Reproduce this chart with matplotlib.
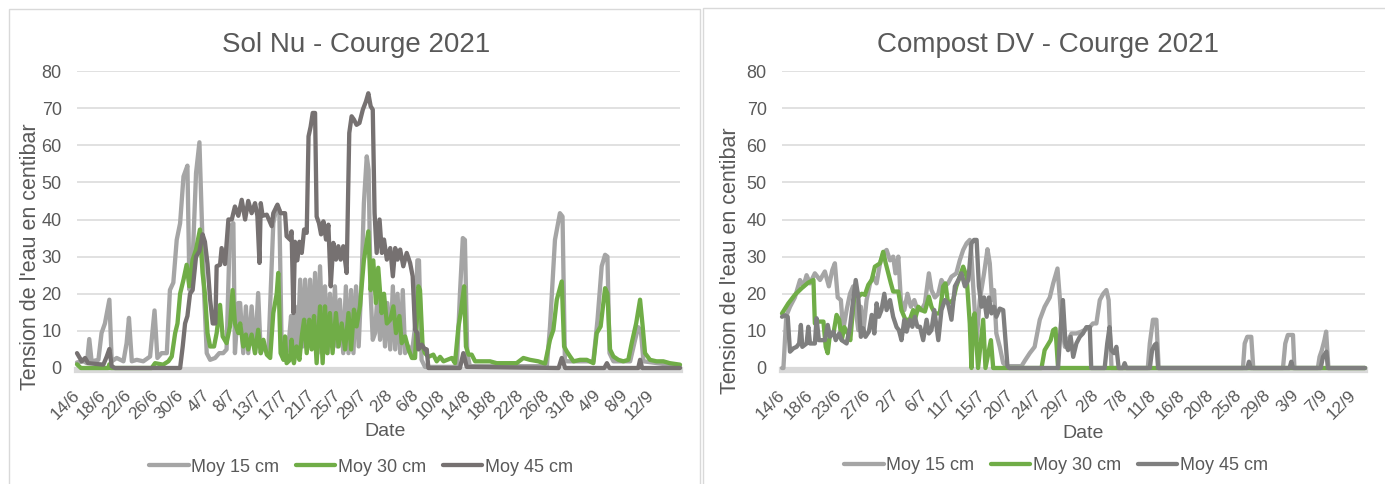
import numpy as np
import matplotlib
matplotlib.use('Agg')
import matplotlib.pyplot as plt
from matplotlib.patches import Rectangle

# ---- data (x = position on the date axis, 1 unit = one labelled step)
sn_labels = ['14/6', '18/6', '22/6', '26/6', '30/6', '4/7', '8/7', '13/7', '17/7', '21/7', '25/7', '29/7',
             '2/8', '6/8', '10/8', '14/8', '18/8', '22/8', '26/8', '31/8', '4/9', '8/9', '12/9']
cd_labels = ['14/6', '18/6', '23/6', '27/6', '2/7', '6/7', '11/7', '15/7', '20/7', '24/7', '29/7',
             '2/8', '7/8', '11/8', '16/8', '20/8', '25/8', '29/8', '3/9', '7/9', '12/9']
sn_end = 23.1
cd_end = 20.4

# Sol Nu - Moy 15 cm
sn_t15 = [0, 0.25, 0.38, 0.47, 0.56, 0.82, 0.94, 1.07, 1.24, 1.33, 1.52, 1.78, 1.9, 1.99, 2.1, 2.29, 2.54, 2.8,
          2.97, 3.08, 3.24, 3.44, 3.56, 3.69, 3.82, 3.95, 4.08, 4.23, 4.31, 4.43, 4.56, 4.69, 4.78, 4.87, 4.97,
          5.1, 5.29, 5.45, 5.6, 5.73, 5.86, 5.99, 6.05, 6.18, 6.25, 6.37, 6.47, 6.56, 6.69, 6.82, 6.94, 7.04,
          7.14, 7.33, 7.52, 7.65, 7.75, 7.84, 7.97, 8.1, 8.2, 8.27, 8.35, 8.44, 8.55, 8.65, 8.74, 8.84, 8.93,
          9.03, 9.12, 9.22, 9.31, 9.41, 9.5, 9.6, 9.69, 9.79, 9.88, 9.97, 10.07, 10.2, 10.3, 10.4, 10.5, 10.59,
          10.69, 10.79, 10.91, 10.99, 11.1, 11.17, 11.25, 11.33, 11.42, 11.51, 11.61, 11.71, 11.8, 11.89, 12.0,
          12.1, 12.19, 12.28, 12.38, 12.48, 12.57, 12.7, 12.83, 12.95, 13.04, 13.1, 13.2, 13.33, 14.55, 14.67,
          14.78, 14.86, 14.95, 15.05, 16.5, 16.59, 16.7, 18.0, 18.12, 18.31, 18.5, 18.6, 18.69, 18.76, 19.78,
          19.94, 20.1, 20.23, 20.32, 20.4, 20.55, 21.19, 21.38, 21.5, 21.6, 21.7, 23.1]
sn_v15 = [1.5, 1.8, 1.3, 7.8, 1.8, 2.2, 9.4, 12, 18.4, 1.8, 2.7, 1.8, 6.7, 13.5, 1.8, 2.2, 1.8, 3.1,
          15.5, 2.7, 4, 4, 21, 23, 34.5, 39, 51.6, 54.5, 21, 29, 52.5, 60.8, 40, 20, 4,
          2.2, 2.7, 4, 4, 5, 38, 39, 4, 17.5, 17.5, 4, 16.6, 4, 16.6, 4, 20.2, 4,
          5.8, 4, 39, 43.5, 42.6, 5.8, 3.1, 5.8, 14, 4, 16.6, 4, 23.8, 5.8, 23.8, 5.8, 23.8,
          5.8, 25.6, 4, 27.4, 7.6, 22, 4, 20, 5.8, 22, 5.8, 18.4, 4, 22, 4, 21, 4,
          22, 5.8, 25.6, 44.4, 57, 53.4, 20, 7.6, 9.4, 20, 7.6, 18.4, 5.8, 17.5, 5,
          22, 5, 20, 4, 21, 4, 5.8, 4, 11, 29, 29, 2.2, 0.3, 0.3, 20,
          35, 34.5, 4, 0.5, 0.5, 1.3, 0.5, 0.5, 11.2, 34.5, 41.7, 40.8, 2.2, 1.8, 1.8,
          13, 27.4, 30.5, 30, 4, 1.8, 1.8, 7.6, 11, 10, 1.8, 0.5]

# Sol Nu - Moy 30 cm
sn_t30 = [0, 0.15, 1.2, 1.24, 1.3, 2.86, 2.99, 3.3, 3.5, 3.63, 3.76, 3.85, 3.95, 4.08, 4.2, 4.3, 4.43, 4.56,
          4.71, 4.81, 4.9, 5.0, 5.1, 5.25, 5.35, 5.48, 5.58, 5.73, 5.86, 5.96, 6.05, 6.18, 6.25, 6.37, 6.47,
          6.56, 6.69, 6.82, 6.94, 7.04, 7.14, 7.27, 7.4, 7.52, 7.65, 7.71, 7.8, 7.91, 7.97, 8.03, 8.16, 8.22,
          8.31, 8.41, 8.52, 8.61, 8.7, 8.8, 8.9, 8.99, 9.08, 9.18, 9.31, 9.41, 9.5, 9.59, 9.69, 9.79, 9.92,
          10.02, 10.14, 10.27, 10.4, 10.5, 10.61, 10.71, 10.84, 10.99, 11.16, 11.25, 11.35, 11.45, 11.54,
          11.67, 11.76, 11.87, 12.0, 12.12, 12.22, 12.35, 12.44, 12.57, 12.7, 12.83, 12.95, 13.08, 13.14,
          13.24, 13.33, 13.46, 13.65, 13.78, 13.91, 14.04, 14.36, 14.48, 14.61, 14.7, 14.83, 14.9, 15.0,
          15.12, 15.25, 15.44, 15.82, 16.08, 16.46, 16.84, 17.1, 17.35, 17.67, 17.93, 18.12, 18.25, 18.38,
          18.57, 18.66, 18.76, 18.89, 19.02, 19.27, 19.53, 19.78, 19.91, 20.06, 20.23, 20.32, 20.42, 20.55,
          20.74, 20.93, 21.12, 21.25, 21.42, 21.57, 21.67, 21.76, 21.95, 22.2, 22.46, 22.71, 23.1]
sn_v30 = [1, 0, 0, 1, 0, 0, 1.3, 0.9, 1.8, 3.1, 9.4, 12, 20, 23.8, 27.8, 22, 29.2, 31.9,
          37.3, 25.6, 20, 9.4, 5.8, 5.8, 9.4, 17, 8.5, 6.7, 11.2, 21, 12, 9.4, 12, 5.8, 9,
          5, 9, 4, 10.3, 4, 7.6, 3.6, 2.7, 14.8, 20, 25.6, 4, 2.2, 8.5, 1.3, 2.2, 7.6,
          1.3, 5.8, 2.2, 8.5, 13, 4, 13, 5, 14, 1.3, 16.6, 1.3, 16.6, 4, 14.8, 4, 14.8,
          5.8, 12, 5, 14.8, 5, 15.7, 11.2, 16.6, 29, 36.8, 21, 29, 17.5, 27,
          14.8, 20, 12, 13, 16.6, 9.4, 14, 6.7, 8.5, 5, 2.7, 2.7, 22, 21,
          5.8, 4, 3, 3.6, 1.8, 3, 1.8, 2.7, 1.3, 11, 14.8, 22, 5.8, 3.6,
          3.6, 1.8, 1.8, 1.8, 1.3, 1.3, 1.3, 2.7, 2.2, 1.8, 1.2, 7.6, 10.3, 18.4,
          23.3, 5.8, 4.5, 3.1, 1.8, 2.2, 2.2, 1.3, 9.4, 11.2, 21.5, 20, 5, 3.1,
          2.2, 1.8, 2.2, 6.7, 12, 18.4, 11.2, 4, 2.2, 1.8, 1.8, 1.3, 0.9]

# Sol Nu - Moy 45 cm
sn_t45 = [0, 0.18, 0.31, 0.43, 1.01, 1.14, 1.24, 1.33, 1.45, 3.95, 4.05, 4.14, 4.23, 4.33, 4.43, 4.56, 4.69,
          4.81, 4.9, 5.0, 5.1, 5.2, 5.3, 5.35, 5.48, 5.54, 5.67, 5.8, 5.93, 6.05, 6.18, 6.31, 6.44, 6.56, 6.69,
          6.82, 6.91, 6.99, 7.04, 7.11, 7.27, 7.46, 7.52, 7.68, 7.8, 7.97, 8.03, 8.16, 8.22, 8.29, 8.35, 8.44,
          8.52, 8.61, 8.7, 8.8, 8.87, 8.95, 9.03, 9.12, 9.18, 9.27, 9.35, 9.44, 9.54, 9.63, 9.72, 9.82, 9.92,
          10.01, 10.1, 10.2, 10.33, 10.43, 10.52, 10.61, 10.71, 10.82, 10.95, 11.07, 11.16, 11.25, 11.33,
          11.4, 11.48, 11.59, 11.68, 11.76, 11.87, 12.0, 12.1, 12.19, 12.28, 12.38, 12.5, 12.63, 12.76,
          12.86, 12.95, 13.04, 13.08, 13.21, 13.33, 13.4, 13.46, 14.67, 14.8, 14.93, 18.45, 18.57, 18.7,
          20.2, 20.3, 20.4, 21.5, 21.57, 21.65, 23.1]
sn_v45 = [4, 1.8, 2.7, 1.3, 0.9, 3.1, 5.1, 0.5, 0, 0, 5.8, 12, 14, 20, 21, 30, 31.5,
          36, 34, 28, 18.4, 12, 12, 27.4, 27.8, 32.3, 28, 40, 40, 43.5, 41, 45.3, 40, 45, 41.7,
          44.4, 41, 28.3, 44.4, 41, 41.3, 38.2, 41.7, 44, 41.7, 41.7, 35.5, 34.6, 36.8, 14.8, 34, 29,
          34, 31, 37.3, 36.4, 62.4, 65, 68.7, 68.7, 40.8, 39, 36, 39.5, 34.6, 38.6, 22, 33.7, 29.2,
          32.8, 29.2, 32.8, 25.6, 63.3, 67.8, 66.9, 65.5, 66, 69.6, 71.8, 74, 70.5, 69.6,
          41.7, 31, 40, 31, 34.6, 29.2, 32.3, 24.7, 32.3, 29.2, 31.9, 27.4, 31, 28.3,
          24.7, 10.3, 9.4, 5, 6.3, 5, 5, 0, 0, 4, 0.3, 0, 2.7, 0,
          0, 1.3, 0, 0, 2.2, 0, 0]

# Compost DV - Moy 15 cm
cd_t15 = [0, 0.05, 0.15, 0.28, 0.45, 0.63, 0.75, 0.86, 0.98, 1.15, 1.33, 1.5, 1.64, 1.76, 1.85, 1.95, 2.06,
          2.14, 2.26, 2.38, 2.49, 2.58, 2.67, 2.76, 2.84, 2.96, 3.08, 3.19, 3.31, 3.43, 3.54, 3.66, 3.78, 3.89,
          3.97, 4.07, 4.16, 4.28, 4.39, 4.51, 4.63, 4.74, 4.88, 5.0, 5.14, 5.23, 5.35, 5.47, 5.58, 5.7, 5.81,
          5.93, 6.1, 6.22, 6.34, 6.46, 6.57, 6.61, 6.69, 6.81, 6.92, 7.07, 7.19, 7.27, 7.35, 7.42, 7.5, 7.62,
          7.74, 7.86, 8.38, 8.5, 8.67, 8.84, 9.02, 9.19, 9.37, 9.49, 9.64, 9.72, 9.78, 9.9, 10.01, 10.13,
          10.3, 10.48, 10.65, 10.77, 10.88, 11.0, 11.12, 11.24, 11.35, 11.43, 11.53, 12.8, 12.87, 12.98,
          13.1, 13.18, 16.13, 16.19, 16.28, 16.42, 16.49, 17.53, 17.61, 17.7, 17.88, 17.93, 18.75, 18.81,
          18.89, 18.98, 19.04, 19.12, 20.4]
cd_v15 = [0, 0, 14, 16.5, 19, 23.7, 22, 25, 22.8, 25.5, 23.7, 26, 22, 26.4, 28.2, 19, 18.3,
          10.2, 15.6, 20, 22, 15.6, 10.2, 16.5, 9.3, 18.3, 22.8, 24.6, 22.8, 28.2, 30.9, 31.8, 29, 30,
          25.5, 30, 18.3, 15.6, 20, 16.5, 18.3, 15.6, 15.6, 17.4, 25.5, 21, 19, 20, 23.7, 22, 22.8,
          24.6, 25.5, 29, 31.8, 33.6, 34.5, 32.7, 22, 7.5, 18.3, 25.5, 32, 28.2, 18.3, 21, 9.3, 5.7,
          1.3, 0.5, 0.5, 2, 4, 5.7, 13, 16.5, 19, 22.8, 26.8, 19, 12, 5.7, 7.5, 9.3,
          9.3, 9.8, 10.5, 11, 12, 12, 18.3, 20, 21, 18.3, 0, 0, 6.6, 13,
          13, 0, 0, 6.6, 8.4, 8.4, 0, 0, 6.6, 8.9, 8.9, 0, 0, 3,
          4.8, 7.5, 9.8, 0, 0]

# Compost DV - Moy 30 cm
cd_t30 = [0, 0.22, 0.45, 0.69, 0.92, 1.1, 1.15, 1.27, 1.45, 1.53, 1.6, 1.68, 1.8, 1.91, 2.0, 2.09, 2.18, 2.3,
          2.39, 2.5, 2.58, 2.67, 2.79, 2.9, 3.02, 3.14, 3.25, 3.43, 3.54, 3.63, 3.72, 3.81, 3.89, 4.07, 4.18,
          4.32, 4.47, 4.59, 4.65, 4.77, 4.88, 5.0, 5.14, 5.23, 5.35, 5.52, 5.64, 5.72, 5.81, 5.99, 6.1, 6.22,
          6.34, 6.46, 6.57, 6.63, 6.69, 6.74, 6.86, 7.04, 7.12, 7.31, 7.39, 9.08, 9.19, 9.4, 9.49, 9.57,
          9.66, 20.4]
cd_v30 = [14.7, 17.4, 19.7, 21.5, 23, 23.7, 12, 12.5, 12.5, 5.7, 4, 9.3, 9.3, 14.3, 13, 7.5, 11, 9.3,
          7.5, 17.4, 22, 19.2, 20, 19.7, 22.4, 23.7, 27.3, 28.2, 31.3, 28.2, 25.5, 22.8, 20.6, 20.6, 15.6,
          13, 13, 15.6, 13, 16.5, 15.6, 15.2, 19.2, 16.5, 14.7, 14.7, 22, 22.8, 17.4, 18.3, 22, 24.6,
          27.3, 24.6, 12, 0, 13, 14.7, 0, 13, 0, 7.5, 0, 0, 4.8, 7.5, 10.2, 10.6,
          0, 0]

# Compost DV - Moy 45 cm
cd_t45 = [0, 0.1, 0.2, 0.28, 0.4, 0.51, 0.6, 0.66, 0.71, 0.86, 0.92, 0.98, 1.15, 1.21, 1.29, 1.5, 1.6, 1.68,
          1.8, 1.88, 2.0, 2.09, 2.26, 2.38, 2.49, 2.58, 2.67, 2.76, 2.84, 2.92, 3.04, 3.14, 3.23, 3.31, 3.39,
          3.48, 3.58, 3.66, 3.78, 3.89, 4.01, 4.09, 4.18, 4.28, 4.36, 4.47, 4.56, 4.65, 4.74, 4.83, 4.94,
          5.06, 5.14, 5.23, 5.33, 5.47, 5.58, 5.7, 5.81, 5.93, 6.05, 6.17, 6.28, 6.4, 6.52, 6.63, 6.72, 6.81,
          6.89, 6.98, 7.07, 7.16, 7.24, 7.33, 7.42, 7.5, 7.62, 7.74, 7.82, 7.89, 7.95, 9.66, 9.75, 9.83,
          9.92, 10.01, 10.1, 10.19, 10.3, 10.42, 10.53, 10.65, 10.77, 10.82, 11.29, 11.38, 11.46, 11.52,
          11.62, 11.7, 11.78, 11.93, 11.99, 12.05, 12.87, 12.95, 13.04, 13.1, 13.16, 16.28, 16.34, 16.4,
          17.76, 17.82, 17.88, 18.85, 18.93, 19.05, 19.1, 20.4]
cd_v45 = [13.8, 14.2, 13.8, 4.4, 5.3, 5.7, 6.6, 11.6, 5.7, 6.6, 11.1, 6.6, 6.6, 13.4, 7.5, 7.5, 11.6, 8.4,
          9.8, 7.5, 9.3, 7.5, 6.6, 11.1, 18.3, 23.7, 19, 8.4, 10.7, 8.4, 9.8, 14.3, 9.3, 17.4, 13.8,
          15.6, 20, 15.6, 18.3, 13.8, 11, 10.2, 7.5, 13, 9.8, 13, 11.1, 13.8, 11.1, 11.1, 7.5,
          13, 9.3, 10.2, 15.6, 7.5, 15.6, 18.3, 17.4, 13, 22, 23.7, 25.5, 22, 23.7, 33.6, 34.5, 34.5,
          22, 16.5, 19, 13.8, 19, 14.7, 16.5, 13.8, 16, 15.6, 7.5, 0.5, 0, 0, 11, 18.3,
          6.6, 4.8, 8.4, 3, 6.6, 8.4, 9.3, 11, 11, 0, 0, 6.6, 11, 4.8,
          4, 5.7, 0, 0, 1.3, 0, 0, 4.8, 6.2, 6.6, 0, 0, 1.7, 0,
          0, 1.7, 0, 0, 3, 4.4, 0, 0]

series_names = ['Moy 15 cm', 'Moy 30 cm', 'Moy 45 cm']

# ---- style
W, H = 1385, 484
txt = '#595959'
grid_c = '#d9d9d9'
plt.rcParams['font.family'] = ['Liberation Sans', 'DejaVu Sans']


def px_rect(x0, y0, x1, y1):
    return [x0 / W, 1 - y1 / H, (x1 - x0) / W, (y1 - y0) / H]


def draw_panel(ax, xs, ys, colors, labels, xend, title, title_x, ylab_xy, date_xy, leg_xy):
    for x, y, c, n in zip(xs, ys, colors, series_names):
        ax.plot(x, y, color=c, lw=3.1, label=n, zorder=3, clip_on=False,
                solid_joinstyle='round', solid_capstyle='round')
    ax.set_xlim(0, xend)
    ax.set_ylim(0, 80)
    ax.set_yticks(np.arange(0, 81, 10))
    ax.set_xticks(np.arange(len(labels)))
    ax.set_xticklabels(labels)
    ax.set_axisbelow(True)
    ax.yaxis.grid(True, color=grid_c, lw=1.1)
    for s in ax.spines.values():
        s.set_visible(False)
    ax.axhline(-0.5, color=grid_c, lw=4.5, zorder=1.5, clip_on=False)
    ax.tick_params(axis='both', length=0, colors=txt)
    ax.tick_params(axis='y', labelsize=13, pad=11)
    ax.tick_params(axis='x', labelsize=12.5, pad=18)
    for lbl in ax.get_xticklabels():
        lbl.set_rotation(45)
        lbl.set_ha('right')
        lbl.set_va('center')
        lbl.set_rotation_mode('anchor')
    fig.text(title_x / W, 1 - 45 / H, title, ha='center', va='center', fontsize=20, color=txt)
    fig.text(ylab_xy[0] / W, 1 - ylab_xy[1] / H, "Tension de l'eau en centibar", rotation=90,
             ha='center', va='center', fontsize=15.5, color=txt)
    fig.text(date_xy[0] / W, 1 - date_xy[1] / H, 'Date', ha='center', va='center', fontsize=14, color=txt)
    ax.legend(loc='center', bbox_to_anchor=(leg_xy[0] / W, 1 - leg_xy[1] / H),
              bbox_transform=fig.transFigure, ncol=3, frameon=False, fontsize=13, labelcolor=txt,
              handlelength=2.2, handletextpad=0.15, columnspacing=0.9)


fig = plt.figure(figsize=(W / 100, H / 100), dpi=100)

# panel borders
fig.add_artist(Rectangle((9 / W, -0.01), (700 - 9) / W, 1.01 - 9 / H, transform=fig.transFigure,
                         fill=False, ec=grid_c, lw=1))
fig.add_artist(Rectangle((703 / W, -0.01), 1.0, 1.01 - 8 / H, transform=fig.transFigure,
                         fill=False, ec=grid_c, lw=1))

ax1 = fig.add_axes(px_rect(77, 71, 680, 368))
draw_panel(ax1, [sn_t15, sn_t30, sn_t45], [sn_v15, sn_v30, sn_v45], ['#a5a5a5', '#70ad47', '#767171'],
           sn_labels, sn_end, 'Sol Nu - Courge 2021', 356, (31, 257), (385, 431), (361, 467))

ax2 = fig.add_axes(px_rect(782, 71, 1365, 368))
draw_panel(ax2, [cd_t15, cd_t30, cd_t45], [cd_v15, cd_v30, cd_v45], ['#a5a5a5', '#70ad47', '#7f7f7f'],
           cd_labels, cd_end, 'Compost DV - Courge 2021', 1048, (731, 261), (1083, 434), (1056, 466))

fig.savefig('out.png', dpi=100)
